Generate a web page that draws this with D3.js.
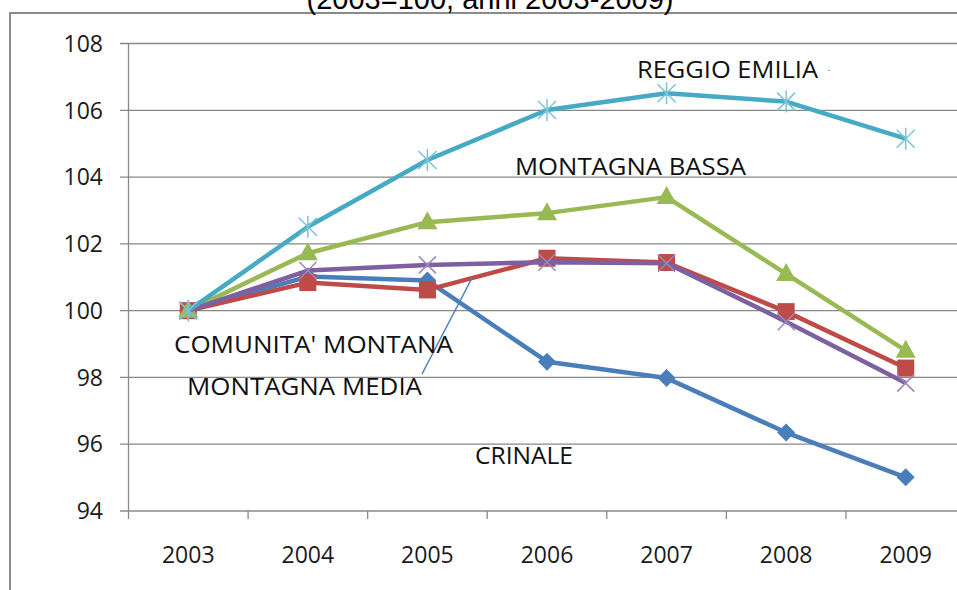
<!DOCTYPE html>
<html>
<head>
<meta charset="utf-8">
<script src="https://cdn.jsdelivr.net/npm/d3@7"></script>
<style>
  html, body { margin: 0; padding: 0; background: #fff; }
  svg { display: block; }
</style>
</head>
<body>
<svg id="chart" width="957" height="590"></svg>
<script>
// ---- data ----
const years = ["2003", "2004", "2005", "2006", "2007", "2008", "2009"];
const yTicks = [94, 96, 98, 100, 102, 104, 106, 108];
const crinale       = [100, 101.02, 100.90, 98.47, 97.98, 96.35, 95.01];
const montagnaMedia = [100, 100.84, 100.62, 101.57, 101.44, 99.97, 98.28];
const montagnaBassa = [100, 101.72, 102.65, 102.92, 103.40, 101.10, 98.80];
const comunita      = [100, 101.20, 101.37, 101.45, 101.42, 99.67, 97.83];
const reggioEmilia  = [100, 102.51, 104.51, 106.01, 106.51, 106.26, 105.15];
const titleText = "(2003=100, anni 2003-2009)";

const series = [
  { name: "CRINALE", values: crinale, color: "#4A7EBB", marker: "diamond" },
  { name: "MONTAGNA MEDIA", values: montagnaMedia, color: "#BE4B48", marker: "square" },
  { name: "MONTAGNA BASSA", values: montagnaBassa, color: "#98B954", marker: "triangle" },
  { name: "COMUNITA' MONTANA", values: comunita, color: "#7D60A0", marker: "x" },
  { name: "REGGIO EMILIA", values: reggioEmilia, color: "#46AAC5", marker: "star" }
];

// labels placed as in the picture
const labels = [
  { text: "REGGIO EMILIA", x: 637, y: 78, w: 181 },
  { text: "MONTAGNA BASSA", x: 515, y: 175, w: 231 },
  { text: "COMUNITA' MONTANA", x: 174, y: 353, w: 279 },
  { text: "MONTAGNA MEDIA", x: 187, y: 395, w: 235 },
  { text: "CRINALE", x: 475, y: 464, w: 98 }
];

const svg = d3.select("#chart");
const font = "'Open Sans', 'Lato', sans-serif";

const plotL = 128.5, plotR = 965.5, plotT = 43.5, plotB = 511;
const x = d3.scaleBand().domain(years).range([plotL, plotR]).padding(0);
const xc = d => x(d) + x.bandwidth() / 2;
const y = d3.scaleLinear().domain([94, 108]).range([plotB, plotT]);

// frame
svg.append("rect").attr("x", 10).attr("y", 13).attr("width", 980).attr("height", 620)
  .attr("fill", "none").attr("stroke", "#8a8a8a").attr("stroke-width", 2);

// title (partially cut, as in the reference)
svg.append("text").attr("x", 490).attr("y", 9).attr("text-anchor", "middle")
  .attr("font-family", "'Liberation Sans', Arial, sans-serif").attr("font-size", 29)
  .attr("textLength", 367).attr("lengthAdjust", "spacingAndGlyphs")
  .attr("fill", "#000").text(titleText);

// gridlines + y ticks
const grid = svg.append("g");
yTicks.forEach(t => {
  grid.append("line").attr("x1", 120).attr("x2", 957)
    .attr("y1", y(t)).attr("y2", y(t))
    .attr("stroke", "#888").attr("stroke-width", 1.3);
  svg.append("text").attr("x", 103).attr("y", y(t)).attr("dy", "0.36em")
    .attr("text-anchor", "end").attr("font-family", font).attr("font-size", 23)
    .attr("fill", "#1a1a1a").text(t);
});

// y axis line
svg.append("line").attr("x1", plotL).attr("x2", plotL).attr("y1", plotT).attr("y2", plotB + 8)
  .attr("stroke", "#888").attr("stroke-width", 1.3);

// x ticks at band boundaries
years.forEach((yr, i) => {
  if (i > 0) {
    svg.append("line").attr("x1", x(yr)).attr("x2", x(yr))
      .attr("y1", plotB).attr("y2", plotB + 8)
      .attr("stroke", "#888").attr("stroke-width", 1.3);
  }
  svg.append("text").attr("x", xc(yr)).attr("y", 563).attr("text-anchor", "middle")
    .attr("font-family", font).attr("font-size", 23).attr("fill", "#1a1a1a").text(yr);
});

// lines
const line = d3.line().x((d, i) => xc(years[i])).y(d => y(d));
series.forEach(s => {
  svg.append("path").datum(s.values).attr("d", line)
    .attr("fill", "none").attr("stroke", s.color).attr("stroke-width", 4.5)
    .attr("stroke-linejoin", "round");
  const g = svg.append("g");
  s.values.forEach((v, i) => {
    const cx = xc(years[i]), cy = y(v);
    if (s.marker === "diamond") {
      g.append("path").attr("d", `M${cx},${cy - 9}L${cx + 9},${cy}L${cx},${cy + 9}L${cx - 9},${cy}Z`)
        .attr("fill", s.color);
    } else if (s.marker === "square") {
      g.append("rect").attr("x", cx - 8.5).attr("y", cy - 8.5).attr("width", 17).attr("height", 17)
        .attr("fill", s.color);
    } else if (s.marker === "triangle") {
      g.append("path").attr("d", `M${cx},${cy - 11}L${cx + 10},${cy + 7}L${cx - 10},${cy + 7}Z`)
        .attr("fill", s.color);
    } else if (s.marker === "x") {
      const r = 8.5;
      g.append("path").attr("d", `M${cx - r},${cy - r}L${cx + r},${cy + r}M${cx + r},${cy - r}L${cx - r},${cy + r}`)
        .attr("stroke", "#9C87BA").attr("stroke-width", 1.5).attr("fill", "none");
    } else if (s.marker === "star") {
      const r = 9;
      g.append("path").attr("d", `M${cx - r},${cy - r}L${cx + r},${cy + r}M${cx + r},${cy - r}L${cx - r},${cy + r}M${cx},${cy - r - 2}L${cx},${cy + r + 2}`)
        .attr("stroke", "#7CC3D8").attr("stroke-width", 1.5).attr("fill", "none");
    }
  });
});

// leader line
svg.append("line").attr("x1", 422).attr("y1", 374).attr("x2", 472).attr("y2", 278)
  .attr("stroke", "#4A7EBB").attr("stroke-width", 1.5);

// series labels
labels.forEach(l => {
  svg.append("text").attr("x", l.x).attr("y", l.y)
    .attr("font-family", font).attr("font-size", 23).attr("fill", "#111")
    .attr("textLength", l.w).attr("lengthAdjust", "spacingAndGlyphs")
    .text(l.text);
});
svg.append("text").attr("x", 827).attr("y", 74).attr("font-family", font)
  .attr("font-size", 12).attr("fill", "#aaa").text("-");
</script>
</body>
</html>
